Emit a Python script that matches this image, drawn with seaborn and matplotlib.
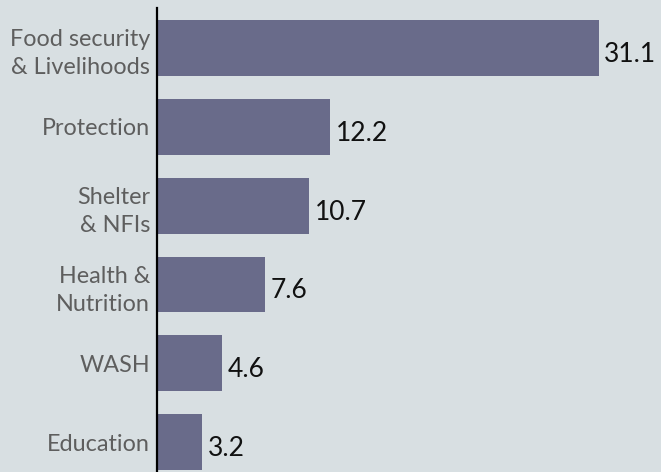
import matplotlib

matplotlib.use("Agg")
import matplotlib.pyplot as plt
import pandas as pd
import seaborn as sns

sectors = [
    "Food security\n& Livelihoods",
    "Protection",
    "Shelter\n& NFIs",
    "Health &\nNutrition",
    "WASH",
    "Education",
]
values = [31.1, 12.2, 10.7, 7.6, 4.6, 3.2]

BG = "#d8dfe2"
BAR = "#696b8a"

sns.set_style("white")
plt.rcParams["font.family"] = ["Lato", "DejaVu Sans"]

df = pd.DataFrame({"sector": sectors, "value": values})

fig = plt.figure(figsize=(6.61, 4.72), dpi=100, facecolor=BG)
ax = fig.add_axes([157 / 661, 0, 1 - 157 / 661, 464 / 472])
ax.set_facecolor(BG)

sns.barplot(data=df, y="sector", x="value", orient="h", color=BAR,
            saturation=1, width=0.71, linewidth=0, ax=ax)

for i, v in enumerate(values):
    ax.text(v + 0.4, i + 0.08, f"{v}", va="center", ha="left",
            fontsize=19, color="#111111")

ax.set_xlim(0, 35.5)
ax.set_ylim(5.38, -0.51)
ax.set_xlabel("")
ax.set_ylabel("")
ax.set_xticks([])
for s in ["top", "right", "bottom"]:
    ax.spines[s].set_visible(False)
ax.spines["left"].set_color("black")
ax.spines["left"].set_linewidth(1.6)
ax.tick_params(axis="y", length=0, pad=5, labelsize=16.8, labelcolor="#5e5e5e")
for lbl in ax.get_yticklabels():
    lbl.set_linespacing(1.42)

fig.savefig("out.png", dpi=100, facecolor=BG)
